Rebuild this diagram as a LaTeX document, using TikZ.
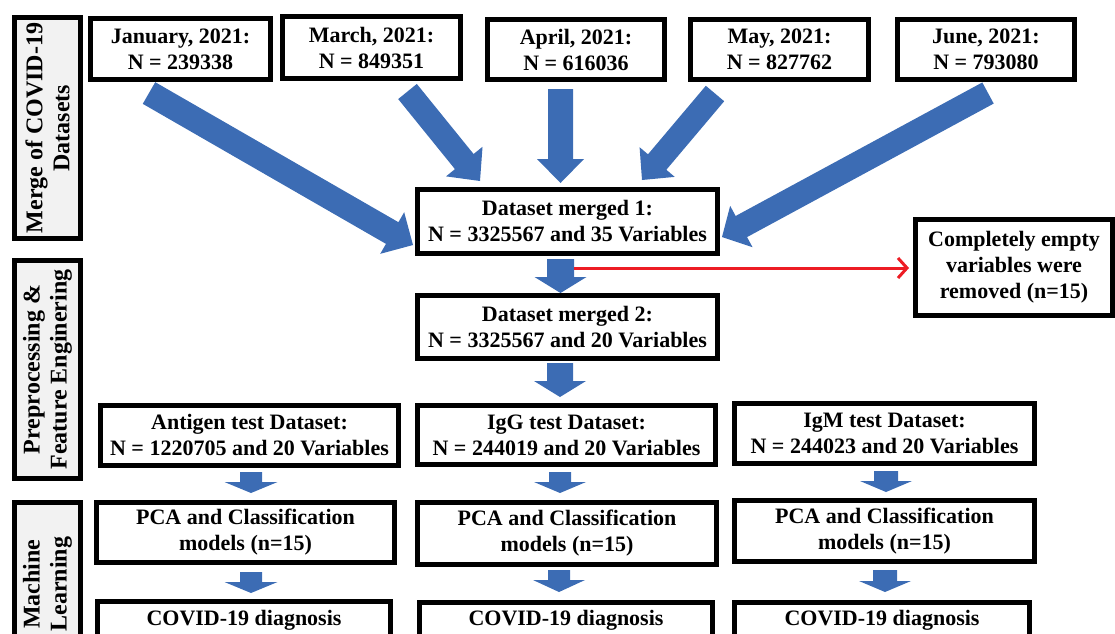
\documentclass[tikz,border=0pt]{standalone}
\usepackage{fontspec}
\setmainfont{Liberation Serif}
\usetikzlibrary{calc,arrows.meta}

\definecolor{flowblue}{RGB}{60,108,180}
\definecolor{cutred}{RGB}{237,28,36}
\definecolor{bandgray}{RGB}{242,242,242}

% block arrow: tail, tip, half shaft width, half head width, head length
\newcommand\blockarrow[5]{%
  \coordinate (hb) at ($(#2)!#5!(#1)$);
  \fill[flowblue] ($(#1)!#3!90:(#2)$) -- ($(hb)!#3!90:(#2)$) -- ($(hb)!#4!90:(#2)$)
    -- (#2) -- ($(hb)!#4!-90:(#2)$) -- ($(hb)!#3!-90:(#2)$) -- ($(#1)!#3!-90:(#2)$) -- cycle;
}

\begin{document}
\begin{tikzpicture}[x=1pt,y=-1pt,
  txt/.style={font=\fontsize{22}{26}\selectfont\bfseries, align=center, inner sep=0pt},
  box/.style={txt, draw=black, line width=5pt, fill=white},
  band/.style={draw=black, line width=5pt, fill=bandgray, inner sep=0pt},
  bandtxt/.style={font=\fontsize{24}{27}\selectfont\bfseries, align=center, inner sep=0pt, rotate=90},
  cut/.style={draw=cutred, line width=3pt, -{Straight Barb[length=9pt,width=20pt]}}
]
\useasboundingbox (0,0) rectangle (1115,633);
\clip (0,0) rectangle (1115,633);

% stage bands on the left
\node[band, minimum width=66, minimum height=221] (stage1) at (47.5,128) {};
\node[band, minimum width=66, minimum height=218] (stage2) at (47.5,369.5) {};
\node[band, minimum width=66, minimum height=190, anchor=north] (stage3) at (47.5,499.5) {};
\node[bandtxt] (stage1t) at (stage1.center) {Merge of COVID-19\\Datasets};
\node[bandtxt] (stage2t) at (stage2.center) {Preprocessing \&\\Feature Enginering};
\node[bandtxt] (stage3t) at (47.5,584) {Machine\\Learning};

% monthly datasets
\node[box, minimum width=180, minimum height=61] (jan) at (180.5,49) {January, 2021:\\N = 239338};
\node[box, minimum width=178, minimum height=62] (mar) at (371.5,47.5) {March, 2021:\\N = 849351};
\node[box, minimum width=177, minimum height=60] (apr) at (576,49.5) {April, 2021:\\N = 616036};
\node[box, minimum width=178, minimum height=60] (may) at (779.5,49.5) {May, 2021:\\N = 827762};
\node[box, minimum width=177, minimum height=60] (jun) at (986,49.5) {June, 2021:\\N = 793080};

% merged datasets
\node[box, minimum width=300, minimum height=64] (mrg1) at (567.5,221.5) {Dataset merged 1:\\N = 3325567 and 35 Variables};
\node[box, minimum width=300, minimum height=63] (mrg2) at (567.5,327) {Dataset merged 2:\\N = 3325567 and 20 Variables};
\node[box, minimum width=197, minimum height=96] (empty) at (1014,267.5) {Completely empty\\variables were\\removed (n=15)};

% test datasets
\node[box, minimum width=298, minimum height=60] (ag) at (249.5,435.5) {Antigen test Dataset:\\N = 1220705 and 20 Variables};
\node[box, minimum width=298, minimum height=59] (igg) at (566.5,435) {IgG test Dataset:\\N = 244019 and 20 Variables};
\node[box, minimum width=300, minimum height=60] (igm) at (884.5,433.5) {IgM test Dataset:\\N = 244023 and 20 Variables};

% models
\node[box, minimum width=298, minimum height=60] (pca1) at (245.5,532.5) {PCA and Classification\\models (n=15)};
\node[box, minimum width=299, minimum height=62] (pca2) at (567,533.5) {PCA and Classification\\models (n=15)};
\node[box, minimum width=300, minimum height=61] (pca3) at (884.5,531) {PCA and Classification\\models (n=15)};

% diagnosis
\node[box, minimum width=293, minimum height=90, anchor=north] (dx1) at (244,598.5) {};
\node[box, minimum width=293, minimum height=90, anchor=north] (dx2) at (566,599.5) {};
\node[box, minimum width=295, minimum height=90, anchor=north] (dx3) at (882,599.5) {};
\node[txt] (dx1t) at (dx1.north |- 0,620) {COVID-19 diagnosis};
\node[txt] (dx2t) at (dx2.north |- 0,620) {COVID-19 diagnosis};
\node[txt] (dx3t) at (dx3.north |- 0,620) {COVID-19 diagnosis};

% arrow ends
\coordinate (janA) at (149,93);     \coordinate (janB) at (413,245);
\coordinate (marA) at (407.5,91.5); \coordinate (marB) at (480,181);
\coordinate (aprA) at (560.5,89);   \coordinate (aprB) at (560.5,183);
\coordinate (mayA) at (715,93.5);   \coordinate (mayB) at (642,180);
\coordinate (junA) at (988,93);     \coordinate (junB) at (722,237);
\coordinate (m1A) at (560.5,259);   \coordinate (m1B) at (560.5,293);
\coordinate (m2A) at (560,363);     \coordinate (m2B) at (560,397);
\coordinate (agA) at (251,472);     \coordinate (agB) at (251,493);
\coordinate (iggA) at (560,472);    \coordinate (iggB) at (560,493);
\coordinate (igmA) at (886,471);    \coordinate (igmB) at (886,492);
\coordinate (p1A) at (251,572);     \coordinate (p1B) at (251,593);
\coordinate (p2A) at (559,570);     \coordinate (p2B) at (559,592);
\coordinate (p3A) at (885,570);     \coordinate (p3B) at (885,592);

\blockarrow{janA}{janB}{12.5pt}{24pt}{24pt}
\blockarrow{marA}{marB}{12pt}{23.5pt}{25pt}
\blockarrow{aprA}{aprB}{12.5pt}{23.5pt}{24pt}
\blockarrow{mayA}{mayB}{12pt}{23pt}{23.5pt}
\blockarrow{junA}{junB}{12pt}{23.5pt}{22pt}
\blockarrow{m1A}{m1B}{13.5pt}{26pt}{16pt}
\blockarrow{m2A}{m2B}{13pt}{26pt}{16pt}
\blockarrow{agA}{agB}{11pt}{26.5pt}{11pt}
\blockarrow{iggA}{iggB}{11pt}{26pt}{11pt}
\blockarrow{igmA}{igmB}{12pt}{26pt}{11pt}
\blockarrow{p1A}{p1B}{11pt}{26.5pt}{11pt}
\blockarrow{p2A}{p2B}{11pt}{26pt}{12pt}
\blockarrow{p3A}{p3B}{12pt}{26pt}{11pt}

% removed variables
\coordinate (cutA) at (574,268);
\draw[cut, shorten >=4pt] (cutA) -- (cutA -| empty.west);
\end{tikzpicture}
\end{document}
